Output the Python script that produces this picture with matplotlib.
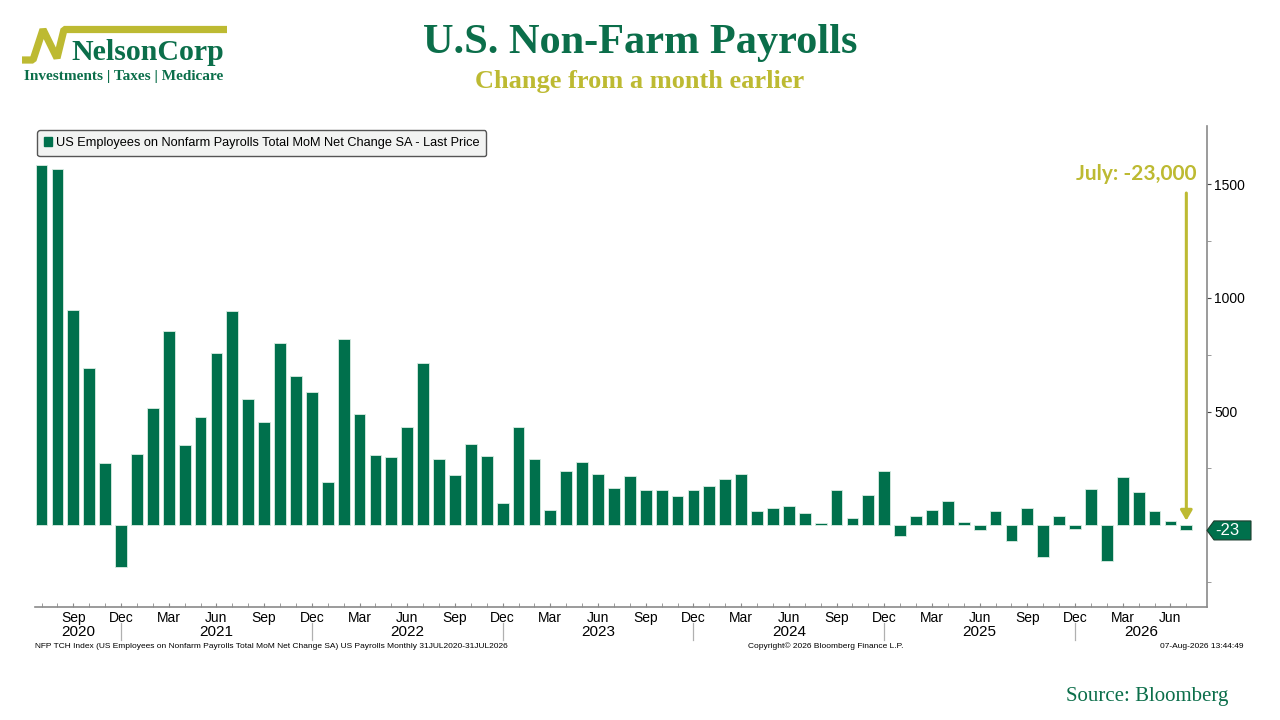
import matplotlib
matplotlib.use("Agg")
import matplotlib.pyplot as plt
from matplotlib.patches import Patch, Polygon
from matplotlib.lines import Line2D
import matplotlib.transforms as mtransforms

# ---------------- data (thousands, monthly Jul 2020 - Jul 2026) ----------------
values_2020 = [1586, 1567, 948, 692, 273, -185]
values_2021 = [315, 517, 853, 353, 478, 757, 944, 554, 456, 803, 658, 586]
values_2022 = [190, 820, 490, 308, 302, 434, 714, 290, 220, 356, 304, 99]
values_2023 = [434, 290, 69, 240, 278, 224, 163, 218, 154, 157, 128, 154]
values_2024 = [174, 205, 227, 63, 77, 85, 53, 9, 154, 32, 132, 238]
values_2025 = [-47, 41, 66, 108, 13, -19, 63, -69, 75, -141, 41, -16]
values_2026 = [160, -158, 212, 145, 63, 19, -23]
values = values_2020 + values_2021 + values_2022 + values_2023 + values_2024 + values_2025 + values_2026

month_names = ["Jan", "Feb", "Mar", "Apr", "May", "Jun", "Jul", "Aug", "Sep", "Oct", "Nov", "Dec"]
start_month = 7   # July
start_year = 2020
years = [2020, 2021, 2022, 2023, 2024, 2025, 2026]
quarter_labels = ["Mar", "Jun", "Sep", "Dec"]
y_labels = [500, 1000, 1500]
last_value = -23
annotation_text = "July: -23,000"
legend_text = "US Employees on Nonfarm Payrolls Total MoM Net Change SA - Last Price"

GREEN = "#00704c"
TITLE_GREEN = "#0b6e4a"
OLIVE = "#bdba32"

W, H = 1280, 720
fig = plt.figure(figsize=(12.8, 7.2), dpi=100)
fig.patch.set_facecolor("white")


def fx(px):
    return px / W


def fy(py):
    return 1 - py / H


ax = fig.add_axes([fx(35), fy(607), fx(1207) - fx(35), fy(126) - fy(607)])
n = len(values)
xs = list(range(n))
ax.bar(xs, values, width=0.74, color=GREEN, edgecolor="#d9ece2", linewidth=0.6, zorder=2)
ax.set_xlim(-0.41, 73.3)
ax.set_ylim(-360, 1757)

for s in ["left", "top"]:
    ax.spines[s].set_visible(False)
for s in ["right", "bottom"]:
    ax.spines[s].set_color("#8a8a8a")
    ax.spines[s].set_linewidth(1.2)

# y axis on right
ax.yaxis.tick_right()
ax.set_yticks(y_labels)
ax.set_yticklabels([str(v) for v in y_labels], fontsize=10, family="Liberation Sans")
ax.set_yticks([-250, 250, 750, 1250], minor=True)
ax.tick_params(axis="y", which="major", direction="out", length=3, color="#444", pad=2)
ax.tick_params(axis="y", which="minor", direction="out", length=3, color="#8a8a8a")

# x axis: monthly minor ticks, quarterly labels
month_idx = [(start_month - 1 + i) % 12 for i in range(n)]
lab_pos = [i for i in range(n) if month_names[month_idx[i]] in quarter_labels]
ax.set_xticks(lab_pos)
ax.set_xticklabels([month_names[month_idx[i]] for i in lab_pos], fontsize=10, family="Liberation Sans")
ax.set_xticks(xs, minor=True)
ax.tick_params(axis="x", which="major", direction="in", length=3, color="#8a8a8a", pad=3)
ax.tick_params(axis="x", which="minor", direction="in", length=3, color="#8a8a8a")

# year separators at December and year labels
trans = mtransforms.blended_transform_factory(ax.transData, fig.transFigure)
dec_pos = [i for i in range(n) if month_idx[i] == 11]
for d in dec_pos:
    ax.add_line(Line2D([d, d], [fy(623), fy(640)], transform=trans, color="#b0b0b0",
                       linewidth=0.9, clip_on=False))
bounds = [ax.get_xlim()[0]] + dec_pos + [ax.get_xlim()[1]]
for k, yr in enumerate(years):
    cx = (bounds[k] + bounds[k + 1]) / 2
    ax.text(cx, fy(632.5), str(yr), transform=trans, ha="center", va="center",
            fontsize=11, family="Liberation Sans")

# last value tag
tag_trans = mtransforms.blended_transform_factory(ax.transAxes, ax.transData)
ax_w_px = 1207 - 35
hv = 9.5 / 0.2273
tip = 1.0
a = 7 / ax_w_px
wd = 44 / ax_w_px
tag = Polygon([(tip, last_value), (tip + a, last_value + hv), (tip + wd, last_value + hv),
               (tip + wd, last_value - hv), (tip + a, last_value - hv)],
              closed=True, transform=tag_trans, facecolor=GREEN, edgecolor="#1d3d2e",
              linewidth=0.8, clip_on=False, zorder=5)
ax.add_patch(tag)
ax.text(tip + a + 1 / ax_w_px, last_value, str(last_value), transform=tag_trans, color="white",
        fontsize=12, family="Liberation Sans", ha="left", va="center", zorder=6)

# annotation arrow
ax.annotate("", xy=(n - 1, 20), xytext=(n - 1, 1462),
            arrowprops=dict(arrowstyle="-|>,head_length=0.6,head_width=0.35",
                            color=OLIVE, linewidth=2.2, shrinkA=0, shrinkB=0), zorder=4)
fig.text(fx(1196), fy(174), annotation_text, ha="right", va="center", color=OLIVE,
         fontsize=15, fontweight="bold", family="Lato")

# legend
leg = ax.legend([Patch(facecolor=GREEN, edgecolor=GREEN)], [legend_text],
                loc="upper left", bbox_to_anchor=(fx(37), fy(130)), bbox_transform=fig.transFigure,
                borderaxespad=0,
                prop={"family": "Liberation Sans", "size": 9.2}, handlelength=0.6, handleheight=0.6,
                handletextpad=0.3, borderpad=0.55, fancybox=True, framealpha=1,
                facecolor="#f2f3f2", edgecolor="#555555")
leg.get_frame().set_linewidth(1.0)
leg.get_frame().set_boxstyle("round,pad=0,rounding_size=0.2")

# titles
fig.text(0.5, fy(53), "U.S. Non-Farm Payrolls", ha="center", va="baseline", color=TITLE_GREEN,
         fontsize=30.5, fontweight="bold", family="Liberation Serif")
fig.text(0.5, fy(88), "Change from a month earlier", ha="center", va="baseline", color=OLIVE,
         fontsize=19, fontweight="bold", family="Liberation Serif")

# logo
lx = [22, 33, 43, 57, 64, 227]
ly = [60, 60, 29.5, 58, 29.5, 29.5]
fig.add_artist(Line2D([fx(v) for v in lx], [fy(v) for v in ly], color=OLIVE, linewidth=5.2,
                      solid_joinstyle="bevel", solid_capstyle="butt", transform=fig.transFigure))
fig.text(fx(71), fy(60), "NelsonCorp", ha="left", va="baseline", color=TITLE_GREEN,
         fontsize=21.5, fontweight="bold", family="Liberation Serif")
fig.text(fx(24), fy(80), "Investments | Taxes | Medicare", ha="left", va="baseline", color=TITLE_GREEN,
         fontsize=11, fontweight="bold", family="Liberation Serif")

# footers
fig.text(fx(35), fy(646), "NFP TCH Index (US Employees on Nonfarm Payrolls Total MoM Net Change SA) "
         "US Payrolls Monthly 31JUL2020-31JUL2026", ha="left", va="center", fontsize=6,
         family="Liberation Sans")
fig.text(fx(826), fy(646), "Copyright\u00a9 2026 Bloomberg Finance L.P.", ha="center", va="center",
         fontsize=6, family="Liberation Sans")
fig.text(fx(1243), fy(646), "07-Aug-2026 13:44:49", ha="right", va="center", fontsize=6,
         family="Liberation Sans")
fig.text(fx(1228), fy(697), "Source: Bloomberg", ha="right", va="center", color=TITLE_GREEN,
         fontsize=15, family="Liberation Serif")

fig.savefig("out.png", dpi=100, facecolor="white")
